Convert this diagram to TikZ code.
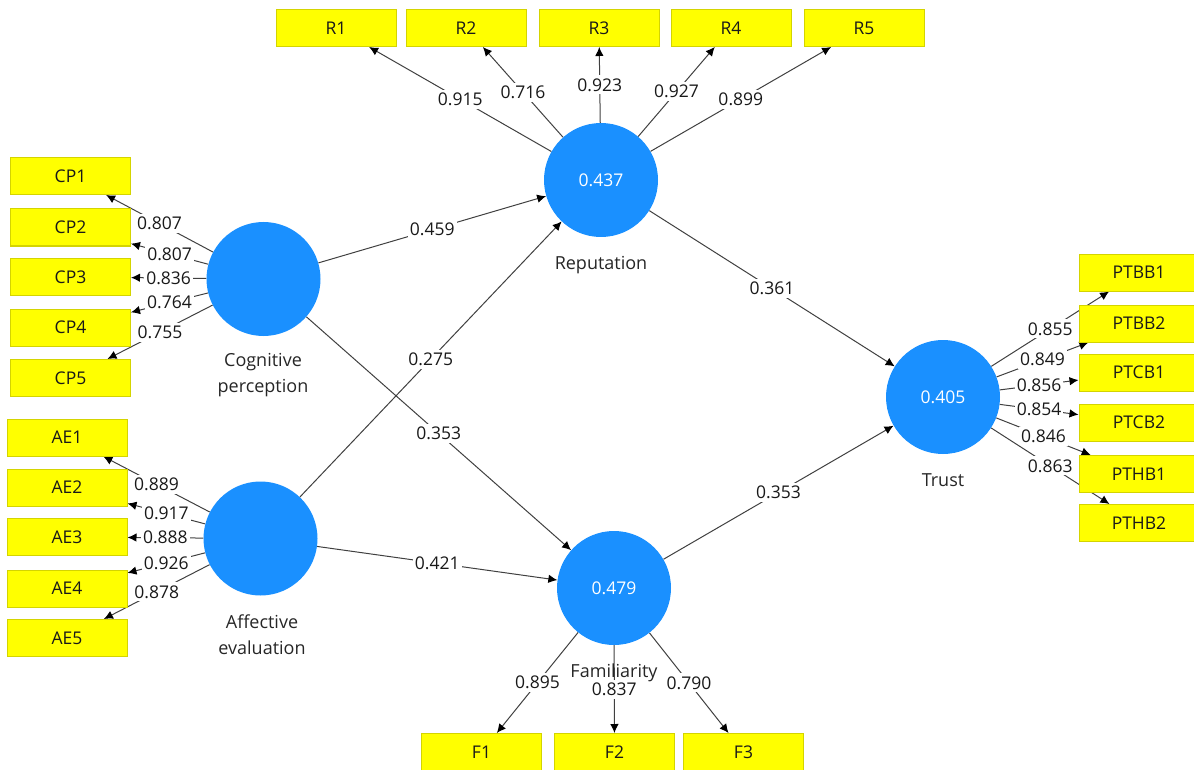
\documentclass[tikz,border=0pt]{standalone}
\usepackage{fontspec}
\setmainfont{Open Sans}
\usetikzlibrary{arrows.meta,backgrounds}
\definecolor{lvc}{HTML}{1A90FF}
\definecolor{mvc}{HTML}{FFFF00}
\definecolor{mvb}{HTML}{D4D400}
\definecolor{lnc}{HTML}{404040}
\begin{document}
\begin{tikzpicture}[x=1pt,y=-1pt,
 lvnode/.style={circle,fill=lvc,minimum size=114pt,inner sep=0pt,text=white,font=\fontsize{17.5}{20}\selectfont},
 mvnode/.style={rectangle,fill=mvc,draw=mvb,line width=1pt,minimum width=120pt,minimum height=37pt,inner sep=0pt,font=\fontsize{17.5}{20}\selectfont,text=black!90},
 ldarrow/.style={draw=lnc,line width=1pt,-{Latex[length=9pt,width=8.5pt,color=black]}},
 wlabel/.style={fill=white,inner xsep=2pt,inner ysep=3pt,font=\fontsize{17.5}{20}\selectfont,text=black!90},
 lvtext/.style={font=\fontsize{18}{26}\selectfont,text=black!85,align=center}
]
\useasboundingbox (0,0) rectangle (1194,770);
% latent variables
\node[lvnode] (rep) at (601,180) {0.437};
\node[lvnode] (cp) at (263.5,279) {};
\node[lvnode] (ae) at (260.5,538.5) {};
\node[lvnode] (fam) at (614,588) {0.479};
\node[lvnode] (tr) at (943,397) {0.405};
\node[lvtext] (repl) at (601,265) {Reputation};
\node[lvtext] (cpl) at (263,375) {Cognitive\\perception};
\node[lvtext] (ael) at (262,635) {Affective\\evaluation};
\node[lvtext] (trl) at (943,480) {Trust};
% indicators
\foreach \n/\x in {1/336,2/466,3/599,4/731,5/864}
  \node[mvnode] (r\n) at (\x,28) {R\n};
\foreach \n/\y in {1/176,2/227.5,3/277,4/327.5,5/378}
  \node[mvnode] (cp\n) at (70.5,\y) {CP\n};
\foreach \n/\y in {1/437.5,2/487.5,3/537,4/588.5,5/638}
  \node[mvnode] (ae\n) at (67,\y) {AE\n};
\foreach \nm/\y in {PTBB1/272.5,PTBB2/323.5,PTCB1/372.5,PTCB2/422.5,PTHB1/474,PTHB2/523}
  \node[mvnode] (\nm) at (1139,\y) {\nm};
\foreach \n/\x in {1/481.5,2/614.5,3/743.5}
  \node[mvnode] (f\n) at (\x,752) {F\n};
% connectors
\begin{scope}[on background layer]
\foreach \n/\v in {1/0.915,2/0.716,3/0.923,4/0.927,5/0.899}
  \draw[ldarrow] (rep) -- node[wlabel]{\v} (r\n);
\foreach \n/\v in {1/0.807,2/0.807,3/0.836,4/0.764,5/0.755}
  \draw[ldarrow] (cp) -- node[wlabel]{\v} (cp\n);
\foreach \n/\v in {1/0.889,2/0.917,3/0.888,4/0.926,5/0.878}
  \draw[ldarrow] (ae) -- node[wlabel]{\v} (ae\n);
\foreach \nm/\v in {PTBB1/0.855,PTBB2/0.849,PTCB1/0.856,PTCB2/0.854,PTHB1/0.846,PTHB2/0.863}
  \draw[ldarrow] (tr) -- node[wlabel]{\v} (\nm);
\foreach \n/\v in {1/0.895,2/0.837,3/0.790}
  \draw[ldarrow] (fam) -- node[wlabel]{\v} (f\n);
\draw[ldarrow] (cp) -- node[wlabel]{0.459} (rep);
\draw[ldarrow] (ae) -- node[wlabel]{0.275} (rep);
\draw[ldarrow] (cp) -- node[wlabel]{0.353} (fam);
\draw[ldarrow] (ae) -- node[wlabel]{0.421} (fam);
\draw[ldarrow] (rep) -- node[wlabel]{0.361} (tr);
\draw[ldarrow] (fam) -- node[wlabel]{0.353} (tr);
\end{scope}
\node[lvtext] (faml) at (614,673) {Familiarity};
\end{tikzpicture}
\end{document}
